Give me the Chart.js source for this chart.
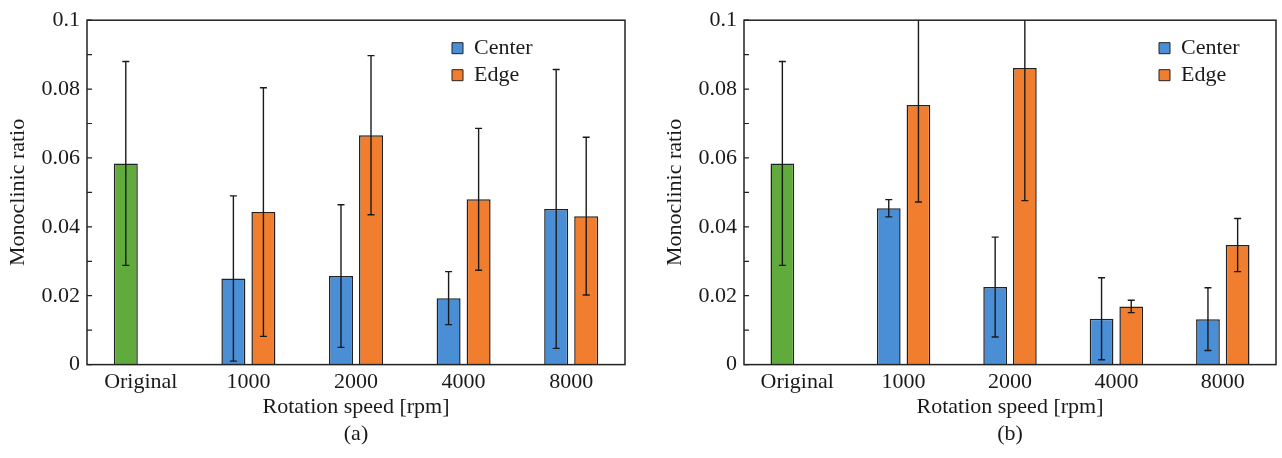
<!DOCTYPE html>
<html><head><meta charset="utf-8">
<script src="https://cdn.jsdelivr.net/npm/chart.js@4.4.1/dist/chart.umd.min.js"></script>
<style>
html,body{margin:0;padding:0;background:#fff;}
#wrap{position:relative;width:1282px;height:458px;overflow:hidden;background:#fff;}
#ca{position:absolute;left:0;top:0;}
#cb{position:absolute;left:657px;top:0;}
</style></head><body>
<div id="wrap"><canvas id="ca" width="640" height="458"></canvas><canvas id="cb" width="625" height="458"></canvas></div>
<script>
const categories = ['Original', '1000', '2000', '4000', '8000'];
const yTicks = [0, 0.02, 0.04, 0.06, 0.08, 0.1];
const yMinorTicks = [0.01, 0.03, 0.05, 0.07, 0.09];

const originalValue = [0.0584, null, null, null, null];
const originalError = [0.0296, null, null, null, null];

const centerA    = [null, 0.0250, 0.0257, 0.0193, 0.0452];
const centerAErr = [null, 0.0240, 0.0207, 0.0077, 0.0405];
const edgeA      = [null, 0.0443, 0.0666, 0.0480, 0.0431];
const edgeAErr   = [null, 0.0361, 0.0231, 0.0206, 0.0229];

const centerB    = [null, 0.0454, 0.0225, 0.0133, 0.0132];
const centerBErr = [null, 0.0025, 0.0145, 0.0119, 0.0091];
const edgeB      = [null, 0.0754, 0.0861, 0.0169, 0.0347];
const edgeBErr   = [null, 0.0282, 0.0385, 0.0018, 0.0077];

const GREEN = '#60ab3b', BLUE = '#4a8fd6', ORANGE = '#f07e2e', EDGEC = '#222222', INK = '#1a1a1a';
const FONT = 'Liberation Serif';
const FS = 22;

const frameAndErrors = {
  id: 'frameAndErrors',
  afterDatasetsDraw(chart) {
    const ctx = chart.ctx, ys = chart.scales.y, a = chart.chartArea;
    ctx.save();
    ctx.beginPath();
    ctx.rect(a.left, a.top, a.right - a.left, a.bottom - a.top);
    ctx.clip();
    ctx.strokeStyle = INK;
    ctx.lineWidth = 1.4;
    chart.data.datasets.forEach((ds, i) => {
      const meta = chart.getDatasetMeta(i);
      if (!ds.errors) return;
      meta.data.forEach((el, j) => {
        const v = ds.data[j], e = ds.errors[j];
        if (v == null || e == null) return;
        const x = el.x;
        const yt = ys.getPixelForValue(v + e), yb = ys.getPixelForValue(v - e);
        const cap = 3.5;
        ctx.beginPath();
        ctx.moveTo(x, yt); ctx.lineTo(x, yb);
        ctx.moveTo(x - cap, yt); ctx.lineTo(x + cap, yt);
        ctx.moveTo(x - cap, yb); ctx.lineTo(x + cap, yb);
        ctx.stroke();
      });
    });
    ctx.restore();
    ctx.save();
    ctx.strokeStyle = '#222';
    ctx.lineWidth = 1.5;
    ctx.strokeRect(a.left, a.top, a.right - a.left, a.bottom - a.top);
    ctx.lineWidth = 1.2;
    ctx.beginPath();
    yTicks.concat(yMinorTicks).forEach(t => {
      const y = ys.getPixelForValue(t);
      ctx.moveTo(a.left, y); ctx.lineTo(a.left + 5, y);
    });
    ctx.stroke();
    ctx.restore();
  }
};

function makeChart(id, center, centerErr, edge, edgeErr, caption, padRight, legendX) {
  const legendMove = {
    id: 'legendMove',
    afterLayout(chart) {
      const lg = chart.legend;
      if (!lg) return;
      const w = lg.width;
      lg.left = legendX - 5;
      lg.right = lg.left + w;
      lg.top = chart.chartArea.top + 12;
    }
  };
  return new Chart(document.getElementById(id), {
    type: 'bar',
    data: {
      labels: categories,
      datasets: [
        { label: 'Original', data: originalValue, errors: originalError, stack: 'c',
          backgroundColor: GREEN, borderColor: EDGEC, borderWidth: 1.5 },
        { label: 'Center', data: center, errors: centerErr, stack: 'c',
          backgroundColor: BLUE, borderColor: EDGEC, borderWidth: 1.5 },
        { label: 'Edge', data: edge, errors: edgeErr, stack: 'e',
          backgroundColor: ORANGE, borderColor: EDGEC, borderWidth: 1.5 }
      ]
    },
    options: {
      responsive: false,
      animation: false,
      devicePixelRatio: 1,
      categoryPercentage: 0.558,
      barPercentage: 0.8,
      layout: { padding: { top: 19, left: 0, right: padRight, bottom: 11 } },
      scales: {
        x: {
          grid: { display: false, drawTicks: false },
          border: { display: false },
          ticks: { color: INK, font: { family: FONT, size: FS }, padding: 4 },
          title: { display: true, text: 'Rotation speed [rpm]', color: INK,
                   font: { family: FONT, size: FS }, padding: { top: 0, bottom: 0 } },
          afterFit(s) { s.height = 56; }
        },
        y: {
          min: 0, max: 0.1, stacked: false,
          grid: { display: false, drawTicks: false },
          border: { display: false },
          afterBuildTicks(s) { s.ticks = yTicks.map(v => ({ value: v })); },
          ticks: { color: INK, font: { family: FONT, size: FS }, padding: 7,
                   callback: v => String(+Number(v).toFixed(2)) },
          title: { display: true, text: 'Monoclinic ratio', color: INK,
                   font: { family: FONT, size: FS }, padding: { top: 5, bottom: 0 } },
          afterFit(s) { s.width = 87; }
        }
      },
      plugins: {
        tooltip: { enabled: false },
        title: { display: true, text: caption, position: 'bottom', fullSize: false,
                 color: INK, font: { family: FONT, size: FS, weight: 'normal' },
                 padding: { top: 0, bottom: 0 } },
        legend: {
          display: true, position: 'chartArea', align: 'start',
          labels: {
            font: { family: FONT, size: FS }, color: INK,
            boxWidth: 11, boxHeight: 11, padding: 5, textAlign: 'left',
            generateLabels: () => [
              { text: 'Center', fillStyle: BLUE, strokeStyle: EDGEC, lineWidth: 1, datasetIndex: 1, textAlign: 'left', fontColor: INK },
              { text: 'Edge', fillStyle: ORANGE, strokeStyle: EDGEC, lineWidth: 1, datasetIndex: 2, textAlign: 'left', fontColor: INK }
            ]
          }
        }
      }
    },
    plugins: [frameAndErrors, legendMove]
  });
}

makeChart('ca', centerA, centerAErr, edgeA, edgeAErr, '(a)', 15, 452);
makeChart('cb', centerB, centerBErr, edgeB, edgeBErr, '(b)', 6, 502);
</script>
</body></html>
